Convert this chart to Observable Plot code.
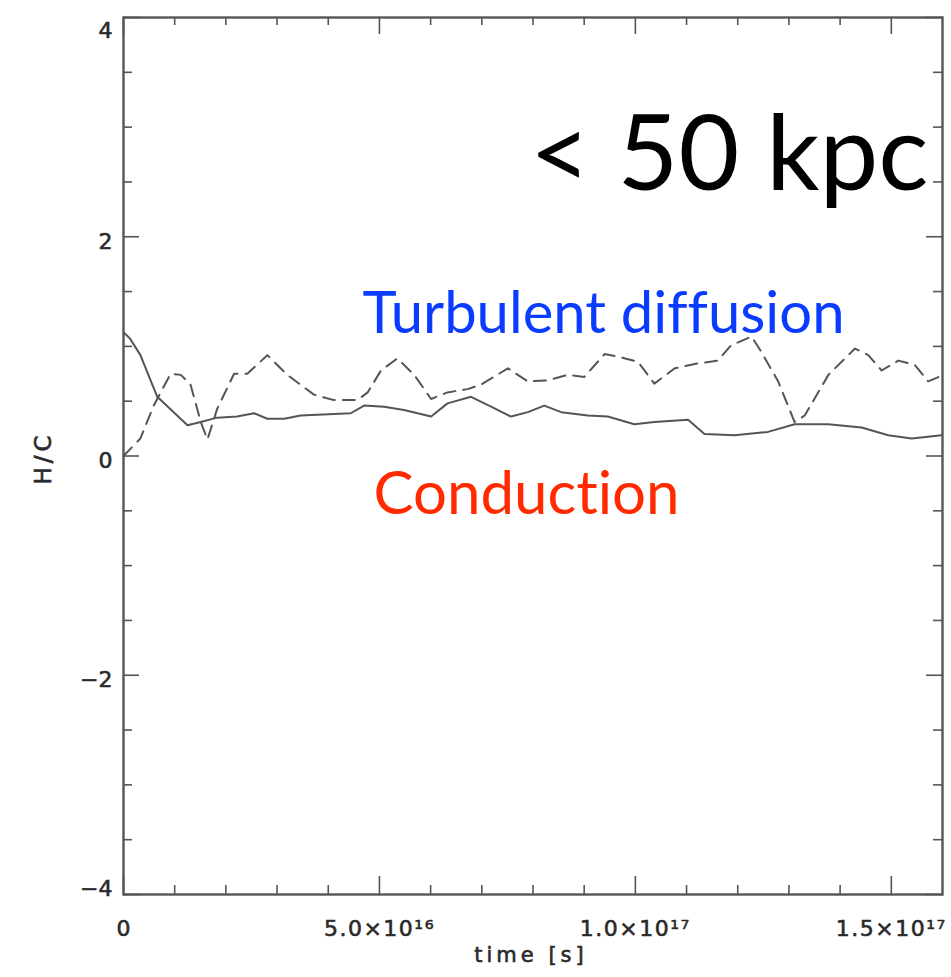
<!DOCTYPE html>
<html><head><meta charset="utf-8">
<script src="https://cdn.jsdelivr.net/npm/d3@7"></script>
<script src="https://cdn.jsdelivr.net/npm/@observablehq/plot@0.6"></script>
<style>body{margin:0;background:#fff} svg{display:block} svg text{font-variant-ligatures:none}</style>
</head><body><div id="chart"></div>
<script>
// solid curve (time in s, H/C)
const solidTime = [0.0e16,0.13e16,0.33e16,0.46e16,0.66e16,1.25e16,1.51e16,1.83e16,2.22e16,2.55e16,2.81e16,3.14e16,3.46e16,4.44e16,4.70e16,5.09e16,5.48e16,6.01e16,6.33e16,6.79e16,7.18e16,7.57e16,7.90e16,8.22e16,8.55e16,9.07e16,9.46e16,9.98e16,10.37e16,11.03e16,11.35e16,11.94e16,12.59e16,13.11e16,13.77e16,14.42e16,14.94e16,15.40e16,15.98e16];
const solidHC   = [1.13,1.07,0.92,0.77,0.54,0.28,0.31,0.35,0.36,0.39,0.34,0.34,0.37,0.39,0.46,0.45,0.42,0.36,0.48,0.54,0.45,0.36,0.40,0.46,0.40,0.37,0.36,0.29,0.31,0.33,0.20,0.19,0.22,0.29,0.29,0.26,0.19,0.16,0.19];
// dashed curve
const dashTime = [0.0e16,0.33e16,0.59e16,0.92e16,1.12e16,1.31e16,1.51e16,1.64e16,1.83e16,2.16e16,2.42e16,2.81e16,3.20e16,3.72e16,4.11e16,4.57e16,4.77e16,5.03e16,5.35e16,5.68e16,6.01e16,6.33e16,6.72e16,6.98e16,7.51e16,7.90e16,8.29e16,8.68e16,9.00e16,9.40e16,9.72e16,10.05e16,10.37e16,10.77e16,11.16e16,11.61e16,11.87e16,12.27e16,12.46e16,12.79e16,13.11e16,13.31e16,13.77e16,14.29e16,14.55e16,14.81e16,15.14e16,15.46e16,15.72e16,15.92e16];
const dashHC   = [0.0,0.16,0.46,0.75,0.74,0.65,0.31,0.15,0.43,0.75,0.75,0.92,0.74,0.56,0.51,0.51,0.58,0.78,0.89,0.74,0.52,0.58,0.61,0.65,0.80,0.68,0.69,0.74,0.72,0.93,0.90,0.86,0.66,0.80,0.84,0.87,1.01,1.09,0.95,0.68,0.31,0.37,0.74,0.98,0.92,0.78,0.87,0.83,0.68,0.72];

const xMajor = [0, 5e16, 1e17, 1.5e17];
const xTickLabels = ["0", "5.0×10¹⁶", "1.0×10¹⁷", "1.5×10¹⁷"];
const xMinor = [1e16,2e16,3e16,4e16,6e16,7e16,8e16,9e16,1.1e17,1.2e17,1.3e17,1.4e17];
const yMajor = [-4,-2,0,2,4];
const yTickLabels = ["−4","−2","0","2","4"];
const yMinor = [-3.5,-3,-2.5,-1.5,-1,-0.5,0.5,1,1.5,2.5,3,3.5];
const annotations = ["< 50 kpc", "Turbulent diffusion", "Conduction"];

const solid = solidTime.map((t,i)=>({t, v: solidHC[i]}));
const dashed = dashTime.map((t,i)=>({t, v: dashHC[i]}));

const W=951, H=977, mL=123, mR=9, mT=17, mB=83;
const iW = W-mL-mR, iH = H-mT-mB;
const ax = "#555";
const lab = "#2a2a2a";
const fmtY = d => yTickLabels[yMajor.indexOf(d)];

const chart = Plot.plot({
  width: W, height: H,
  marginLeft: mL, marginRight: mR, marginTop: mT, marginBottom: mB,
  style: {fontFamily: "'DejaVu Sans', sans-serif", color: lab, background: "#fff"},
  x: {domain: [0, 1.6e17]},
  y: {domain: [-4, 4]},
  marks: [
    // ticks (inward, all four sides)
    Plot.ruleX(xMajor, {x: d=>d, insetTop: iH-18, stroke: ax, strokeWidth: 1.6}),
    Plot.ruleX(xMinor, {x: d=>d, insetTop: iH-9, stroke: ax, strokeWidth: 1.6}),
    Plot.ruleX(xMajor, {x: d=>d, insetBottom: iH-17, stroke: ax, strokeWidth: 1.6}),
    Plot.ruleX(xMinor, {x: d=>d, insetBottom: iH-8, stroke: ax, strokeWidth: 1.6}),
    Plot.ruleY(yMajor, {y: d=>d, insetRight: iW-16, stroke: ax, strokeWidth: 1.6}),
    Plot.ruleY(yMinor, {y: d=>d, insetRight: iW-9, stroke: ax, strokeWidth: 1.6}),
    Plot.ruleY(yMajor, {y: d=>d, insetLeft: iW-16, stroke: ax, strokeWidth: 1.6}),
    Plot.ruleY(yMinor, {y: d=>d, insetLeft: iW-9, stroke: ax, strokeWidth: 1.6}),
    Plot.frame({stroke: ax, strokeWidth: 2.4}),
    // axes labels
    Plot.axisX(xMajor, {tickSize: 0, tickPadding: 26, fontSize: 22, tickFormat: d => xTickLabels[xMajor.indexOf(d)], label: null}),
    Plot.axisY([-2, 0, 2], {tickSize: 0, tickPadding: 11, fontSize: 22, dy: 5, tickFormat: fmtY, label: null}),
    Plot.axisY([4], {tickSize: 0, tickPadding: 11, fontSize: 22, dy: 13, tickFormat: fmtY, label: null}),
    Plot.axisY([-4], {tickSize: 0, tickPadding: 11, fontSize: 22, dy: -6, tickFormat: fmtY, label: null}),
    Plot.text(["time [s]"], {frameAnchor: "bottom", text: d=>d, lineAnchor: "top", textAnchor: "middle", dx: -2, dy: 53, fontSize: 21, fill: lab}),
    Plot.text(["H/C"], {frameAnchor: "left", text: d=>d, textAnchor: "middle", lineAnchor: "middle", dx: -80, dy: 2, rotate: -90, fontSize: 23, fill: lab}),
    // data
    Plot.line(solid, {x: "t", y: "v", stroke: "#555", strokeWidth: 2}),
    Plot.line(dashed, {x: "t", y: "v", stroke: "#555", strokeWidth: 2, strokeDasharray: "12,8"}),
    // annotations
    Plot.text([annotations[0]], {frameAnchor: "top-right", text: d=>d, textAnchor: "end", lineAnchor: "top", dx: -14, dy: 98, fontSize: 105, fill: "#000", fontFamily: "Lato"}),
    Plot.text([annotations[1]], {frameAnchor: "top-left", text: d=>d, textAnchor: "start", lineAnchor: "top", dx: 239, dy: 274, fontSize: 58, fill: "#0a3cff", fontFamily: "Lato"}),
    Plot.text([annotations[2]], {frameAnchor: "top-left", text: d=>d, textAnchor: "start", lineAnchor: "top", dx: 250, dy: 454, fontSize: 60, fill: "#ff2a00", fontFamily: "Lato"})
  ]
});
const sel = d3.select(chart).selectAll("text");
sel.filter(function(){ return this.textContent === "time [s]"; }).style("letter-spacing", "4px");
sel.filter(function(){ return this.textContent === "H/C"; }).style("letter-spacing", "4px");
sel.filter(function(){ return xTickLabels.slice(1).includes(this.textContent); }).style("letter-spacing", "1.5px");
sel.filter(function(){ return !annotations.includes(this.textContent); })
  .style("stroke", lab).style("stroke-width", "0.6px");
document.getElementById("chart").appendChild(chart);
</script>
</body></html>
